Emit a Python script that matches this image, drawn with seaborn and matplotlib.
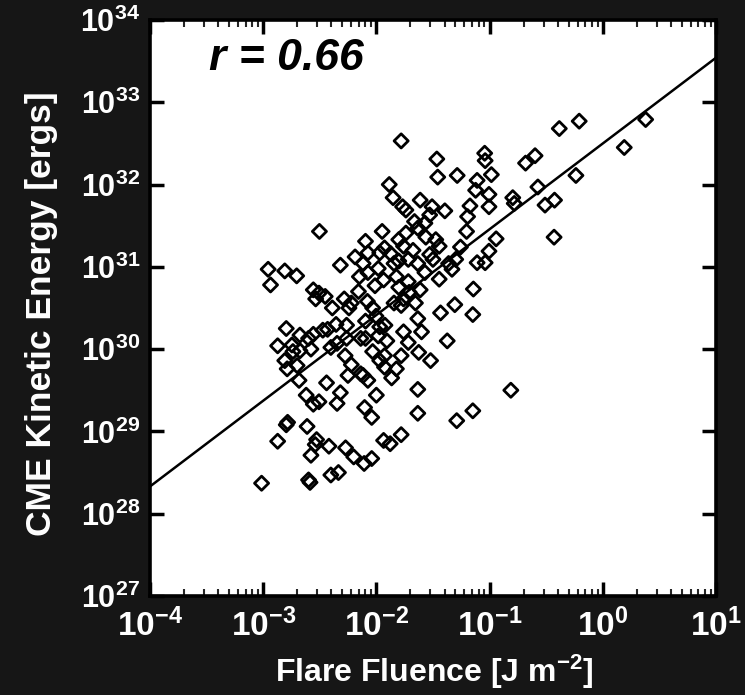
import numpy as np
import pandas as pd
import matplotlib
matplotlib.use("Agg")
import matplotlib.pyplot as plt
import seaborn as sns
from matplotlib.ticker import FixedLocator, NullLocator, LogLocator, FuncFormatter

# ---- data (log10 values) ----
log_fluence = [
    -1.781, -1.466, -1.286, -1.458, -1.043, -1.039, -0.984, -1.110, -1.123, -1.005,
    -1.005, -1.173, -1.194, -1.886, -1.852, -1.768, -1.739, -1.613, -1.508, -1.395,
    -1.529, -1.571, -1.634, -1.663, -0.795, -0.782, -0.682, -0.598, -0.573, -0.510,
    -0.426, -0.430, -0.384, -0.208, -0.237, 0.190, 0.379, -0.942, -0.812,
    -2.503, -2.096, -1.949, -2.188, -2.318, -2.150, -2.956, -2.809, -2.704, -2.935,
    -1.203, -1.110, -1.039, -1.005, -1.257, -1.332, -1.475, -1.445, -1.500, -1.445,
    -1.634, -1.676, -1.563, -1.760, -1.802, -1.739, -1.844, -1.802, -1.718, -1.874,
    -1.970, -1.983, -1.928, -1.823, -1.936, -1.718, -1.571, -1.529, -1.362, -1.299,
    -2.075, -2.117, -2.012, -2.075,
    -1.143, -1.307, -1.148, -1.433, -1.374, -1.613, -1.655, -1.634, -1.601, -1.710,
    -1.760, -1.781, -1.844, -1.802, -1.760, -1.718, -1.924, -1.907, -1.970, -1.983,
    -2.003, -2.079, -2.033, -2.158, -2.242, -2.221, -2.284, -2.389, -2.536, -2.507,
    -2.452, -2.557, -2.356, -2.431, -2.473, -2.347, -2.402, -2.263, -2.263, -2.096,
    -2.138, -2.096, -2.578, -2.599, -2.675, -2.557, -2.796, -2.872, -2.746, -2.675,
    -2.737,
    -2.700, -2.809, -2.788, -2.683, -2.221, -2.251, -2.138, -2.276, -2.033, -1.928,
    -1.970, -1.928, -1.823, -1.781, -1.865, -1.626, -1.521, -2.075, -2.117, -2.000,
    -2.104, -2.041, -1.634, -1.634, -1.148, -1.290, -2.440, -2.318, -2.347, -2.507,
    -2.557, -2.620, -2.784, -2.796, -2.612, -2.528, -2.540, -2.578, -2.872, -2.419,
    -2.272, -2.200, -2.108, -2.041, -1.936, -1.878, -1.781, -2.402, -2.335, -2.586,
    -2.599, -3.014,
]
log_energy = [
    32.53, 32.31, 32.11, 32.09, 32.38, 32.29, 32.12, 32.05, 31.93, 31.88,
    31.73, 31.74, 31.61, 32.00, 31.84, 31.73, 31.69, 31.81, 31.73, 31.68,
    31.63, 31.53, 31.47, 31.55, 31.84, 31.77, 32.26, 32.35, 31.97, 31.75,
    31.81, 31.36, 32.68, 32.77, 32.11, 32.45, 32.79, 31.34, 29.50,
    31.43, 31.31, 31.43, 31.12, 31.02, 30.88, 30.97, 30.95, 30.89, 30.78,
    31.43, 31.05, 31.05, 31.19, 31.24, 30.97, 31.33, 31.25, 31.09, 30.85,
    31.04, 31.20, 31.36, 31.25, 31.33, 31.41, 31.04, 31.07, 31.09, 31.16,
    31.17, 30.98, 31.23, 30.88, 30.84, 30.82, 30.93, 31.15, 31.04, 31.09,
    31.17, 31.04, 30.77, 30.93,
    30.73, 30.54, 30.42, 30.44, 30.10, 30.72, 30.56, 30.37, 30.21, 30.69,
    30.61, 30.53, 30.56, 30.75, 30.21, 30.08, 30.29, 30.10, 30.27, 30.16,
    30.40, 30.58, 30.50, 30.70, 30.50, 30.56, 30.61, 30.50, 30.61, 30.68,
    30.64, 30.72, 30.30, 30.24, 30.23, 30.07, 30.02, 30.29, 30.13, 30.13,
    30.13, 30.34, 30.00, 30.13, 30.17, 30.18, 30.25, 30.04, 30.05, 29.98,
    29.97,
    29.80, 29.86, 29.76, 29.62, 29.81, 29.68, 29.70, 29.92, 29.97, 29.92,
    29.86, 29.78, 29.76, 29.92, 29.65, 29.96, 29.86, 29.62, 29.68, 29.44,
    29.29, 29.17, 29.51, 29.22, 29.25, 29.13, 29.59, 29.47, 29.34, 29.36,
    29.33, 29.44, 29.11, 29.08, 29.06, 28.90, 28.84, 28.71, 28.88, 28.82,
    28.80, 28.69, 28.61, 28.67, 28.89, 28.85, 28.96, 28.47, 28.50, 28.38,
    28.41, 28.37,
]

# regression line end points
fit_fluence = [1e-4, 1e1]
fit_energy = [2.14e28, 3.47e33]

x_ticks = [1e-4, 1e-3, 1e-2, 1e-1, 1e0, 1e1]
y_ticks = [1e27, 1e28, 1e29, 1e30, 1e31, 1e32, 1e33, 1e34]
corr_text = "r = 0.66"
x_label = r"Flare Fluence [J m$^{\mathbf{-2}}$]"
y_label = "CME Kinetic Energy [ergs]"

df = pd.DataFrame({
    "fluence": np.power(10.0, log_fluence),
    "energy": np.power(10.0, log_energy),
})

sns.set_theme(style="ticks")
plt.rcParams["font.family"] = ["Liberation Sans", "DejaVu Sans"]
plt.rcParams["mathtext.fontset"] = "custom"
plt.rcParams["mathtext.rm"] = "Liberation Sans:bold"
plt.rcParams["mathtext.bf"] = "Liberation Sans:bold"
plt.rcParams["mathtext.it"] = "Liberation Sans:bold:italic"

bg = "#161616"
fig = plt.figure(figsize=(7.45, 6.95), dpi=100, facecolor=bg)
ax = fig.add_axes([0.2013, 0.1425, 0.7597, 0.8288])
ax.set_facecolor("white")
ax.set_xscale("log")
ax.set_yscale("log")

sns.lineplot(x=fit_fluence, y=fit_energy, ax=ax, color="black", linewidth=1.8,
             zorder=2)
sns.scatterplot(data=df, x="fluence", y="energy", ax=ax, marker="D", s=52,
                facecolor="none", edgecolor="black", linewidth=2.0, zorder=3)

ax.set_xlim(x_ticks[0], x_ticks[-1])
ax.set_ylim(y_ticks[0], y_ticks[-1])

fmt = FuncFormatter(lambda v, p: r"$\mathbf{10^{%d}}$" % int(round(np.log10(v))))
ax.xaxis.set_major_locator(FixedLocator(x_ticks))
ax.yaxis.set_major_locator(FixedLocator(y_ticks))
ax.xaxis.set_major_formatter(fmt)
ax.yaxis.set_major_formatter(fmt)
ax.xaxis.set_minor_locator(LogLocator(base=10, subs=np.arange(2, 10), numticks=20))
ax.xaxis.set_minor_formatter(FuncFormatter(lambda v, p: ""))
ax.yaxis.set_minor_locator(NullLocator())

ax.tick_params(which="major", direction="in", length=10, width=2.5,
               top=True, right=True, colors="black", labelcolor="white")
ax.tick_params(axis="x", which="major", labelsize=24, pad=9)
ax.tick_params(axis="y", which="major", labelsize=22, pad=7)
ax.tick_params(axis="x", which="minor", direction="in", length=5, width=1.5,
               top=True, bottom=True)

for sp in ax.spines.values():
    sp.set_color("black")
    sp.set_linewidth(2.6)

ax.set_xlabel(x_label, fontsize=23, fontweight="bold", color="white")
ax.set_ylabel(y_label, fontsize=25.5, fontweight="bold", color="white")
ax.xaxis.set_label_coords(0.503, -0.098)
ax.yaxis.set_label_coords(-0.163, 0.49)

ax.text(0.104, 0.933, corr_text, transform=ax.transAxes, fontsize=32,
        fontweight="bold", fontstyle="italic", color="black",
        ha="left", va="center")

fig.savefig("out.png", dpi=100, facecolor=bg)
